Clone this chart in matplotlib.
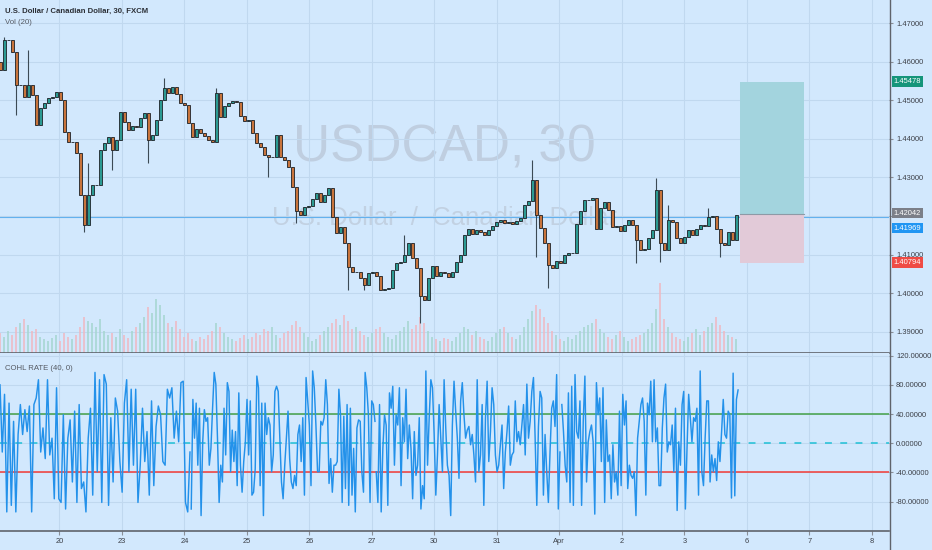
import numpy as np
import matplotlib.pyplot as plt
from matplotlib.patches import Rectangle
from matplotlib.lines import Line2D

plt.rcParams['font.family'] = ['Liberation Sans', 'DejaVu Sans']

# --- data --------------------------------------------------------------
# x axis is in trading days, 0 = Mar 20
day_labels = ['20', '23', '24', '25', '26', '27', '30', '31', 'Apr', '2', '3', '6', '7', '8']

first_open = 1.4600
closes = [
    1.4579, 1.4656, 1.4656, 1.4625, 1.4539, 1.4539, 1.4509, 1.4539, 1.4514, 1.4436,
    1.4480, 1.4493, 1.4506, 1.4509, 1.4522, 1.4501, 1.4418, 1.4392, 1.4392, 1.4363,
    1.4255, 1.4177, 1.4255, 1.4281, 1.4281, 1.4371, 1.4389, 1.4405, 1.4371, 1.4397,
    1.4470, 1.4444, 1.4423, 1.4433, 1.4431, 1.4454, 1.4467, 1.4397, 1.4410, 1.4449,
    1.4501, 1.4532, 1.4519, 1.4534, 1.4516, 1.4493, 1.4488, 1.4441, 1.4405, 1.4426,
    1.4415, 1.4408, 1.4397, 1.4392, 1.4519, 1.4457, 1.4485, 1.4493, 1.4498, 1.4496,
    1.4459, 1.4446, 1.4449, 1.4415, 1.4389, 1.4379, 1.4358, 1.4353, 1.4353, 1.4410,
    1.4353, 1.4345, 1.4327, 1.4275, 1.4213, 1.4203, 1.4224, 1.4226, 1.4244, 1.4260,
    1.4237, 1.4255, 1.4273, 1.4198, 1.4156, 1.4172, 1.4130, 1.4068, 1.4055, 1.4055,
    1.4040, 1.4021, 1.4053, 1.4055, 1.4045, 1.4009, 1.4011, 1.4014, 1.4060, 1.4079,
    1.4081, 1.4099, 1.4130, 1.4091, 1.4066, 1.3993, 1.3983, 1.4040, 1.4071, 1.4045,
    1.4055, 1.4053, 1.4042, 1.4055, 1.4081, 1.4099, 1.4151, 1.4167, 1.4154, 1.4164,
    1.4159, 1.4151, 1.4164, 1.4174, 1.4185, 1.4190, 1.4182, 1.4185, 1.4180, 1.4187,
    1.4195, 1.4229, 1.4239, 1.4294, 1.4203, 1.4169, 1.4130, 1.4073, 1.4066, 1.4084,
    1.4079, 1.4099, 1.4104, 1.4104, 1.4180, 1.4213, 1.4242, 1.4242, 1.4247, 1.4167,
    1.4221, 1.4237, 1.4216, 1.4172, 1.4174, 1.4161, 1.4177, 1.4190, 1.4177, 1.4138,
    1.4112, 1.4115, 1.4143, 1.4164, 1.4268, 1.4130, 1.4112, 1.4190, 1.4185, 1.4143,
    1.4130, 1.4146, 1.4164, 1.4151, 1.4167, 1.4177, 1.4174, 1.4198, 1.4200, 1.4167,
    1.4130, 1.4125, 1.4159, 1.4138, 1.4204,
]
# visible wick extremes (candle index -> price)
wick_hi = {1: 1.4664, 7: 1.4630, 22: 1.4337, 41: 1.4558, 54: 1.4532, 101: 1.4151,
           133: 1.4345, 164: 1.4299, 167: 1.4229, 177: 1.4221}
wick_lo = {4: 1.4462, 21: 1.4159, 28: 1.4319, 37: 1.4337, 67: 1.4301, 74: 1.4182,
           87: 1.4009, 91: 1.4009, 105: 1.3923, 134: 1.4094, 137: 1.4014, 159: 1.4079,
           165: 1.4081, 180: 1.4094}

volume = [
    20, 16, 22, 18, 26, 30, 34, 28, 22, 24, 16, 14, 12, 15, 18, 12, 20, 16, 14, 18,
    26, 36, 32, 30, 26, 34, 22, 18, 20, 16, 24, 18, 15, 22, 26, 30, 36, 46, 40, 54,
    48, 38, 30, 26, 32, 24, 16, 20, 14, 12, 16, 14, 18, 22, 30, 26, 20, 16, 14, 12,
    15, 18, 14, 16, 20, 18, 24, 22, 26, 18, 15, 20, 22, 28, 32, 26, 20, 16, 12, 14,
    18, 22, 26, 30, 34, 28, 38, 32, 24, 26, 22, 18, 16, 20, 24, 26, 20, 16, 14, 18,
    22, 26, 32, 24, 28, 36, 30, 22, 16, 14, 12, 15, 14, 12, 16, 20, 26, 24, 18, 22,
    16, 14, 12, 16, 20, 24, 26, 20, 16, 14, 18, 26, 34, 42, 48, 44, 36, 30, 22, 18,
    14, 12, 16, 14, 18, 22, 26, 28, 30, 34, 24, 20, 16, 14, 18, 22, 16, 12, 14, 16,
    18, 20, 24, 30, 44, 70, 34, 26, 20, 16, 14, 12, 16, 20, 24, 18, 22, 26, 30, 36,
    28, 22, 18, 16, 14,
]

# COHL RATE (40, 0), read in four stretches (start day, end day)
osc_spans = [(-0.95, 2.09), (2.11, 5.05), (5.07, 8.01), (8.04, 10.86)]
osc_a = [80, -12, 67, -94, 55, -85, 30, -94, 12, 53, 12, 46, 16, 51, -94, 53, 62, 87, -12, 21,
         -21, 87, -16, 7, -76, 76, -76, -81, 39, -90, 7, 32, -53, 44, -81, 53, -62, -53, -94, 7,
         48, -71, 97, -39, 87, -81, 94, 81, -85, 35, -53, 62, 44, -25, -67, 55, 87, -39, 74, -30,
         74, -81, -30, 48, -25, 16, -71, 58, -58, 23, 51, 39, -25, -30, 74, 62, 76, 7, 44, 2,
         83, 85, -81, -94, -12]
osc_b = [-90, 60, 7, 55, -30, 48, -99, 2, 46, 30, 35, -30, -7, 48, 97, 81, 7, -81, -30, -53,
         48, -16, 83, 71, -39, 18, -25, 16, -58, 69, -30, -67, -25, 2, 60, -16, 58, -71, -67, -35,
         92, 76, -58, 55, -99, 55, 12, 35, 25, -39, -16, 71, 78, 71, 7, -53, -76, -30, 7, 44,
         -21, -53, -62, -44, -58, 12, 25, -25, 35, -71, 90, 58, 25, -58, 99, 76, 25, -39, -39, 30,
         25, 35, 87, 53, -55, -21, -67, -30, -30, -25, 74, 39, -81, 37, -62, 53, -85, 48, -71, -7,
         -94, 21, 32, 30, -39, -67, 97, 76, 39, -81, 58, 53, 30]
osc_c = [-39, -81, 53, -94, -7, 39, 25, -85, 69, 48, 78, -30, 39, 25, 76, -58, 35, 2, 74, -21,
         25, -7, -76, 16, -44, -30, 35, -90, -58, -76, 99, -30, 35, 87, 76, 12, -71, -16, 53, 7,
         -39, 87, 21, -30, -44, -99, 25, 85, 44, 7, -48, 58, 83, 39, 7, 18, 23, -2, 12, -16,
         -53, 87, -39, -16, 53, -85, 35, 85, -25, 16, 76, 53, -16, -39, -30, -2, 25, -62, -12, 16,
         51, -30, -16, -12, 58, 2, 16, -2, 25, 53, -16, 81, 7, 30, 71, 90, 7, -85, 23, 71,
         62, -71, 12, -39, -81, -12, 48, 58, 23, 94, -90, -12]
osc_d = [53, 16, -30, -53, 69, -81, 78, -85, 94, 16, 7, 58, -85, 30, 92, -53, 2, 16, 25, 2,
         -97, 83, 39, 62, -25, 76, -81, 32, -25, -16, -76, -2, -53, -39, -71, 44, -58, 67, 25, 58,
         -62, -30, -44, -48, -39, -99, 7, 30, 53, 62, 30, -71, 55, 39, 85, 2, 87, 2, 21, -58,
         -58, 21, 62, 81, -12, 2, -2, 25, -39, 48, -92, 2, -30, 53, 71, -90, -7, 67, 35, 2,
         35, 30, 48, -71, 99, -39, -58, 7, 58, 58, -53, -16, -39, -21, -51, 2, -25, 16, 60, 12,
         7, 44, 39, -75, 96, -72, 60, 73]

# long position tool
pos_start, pos_end = 10.89, 11.92
entry, target, stop = 1.42042, 1.45478, 1.40794
line_price = 1.41969

# --- styling ---------------------------------------------------------------
BG = '#d2e8fd'
GRID = '#c0d8ef'
AXC = '#5f636b'
TXT = '#3b3f47'
W, H = 932, 550
xlim = (-0.95, 13.275)

fig = plt.figure(figsize=(W / 100, H / 100), dpi=100, facecolor=BG)
ax1 = fig.add_axes([0, 1 - 352.7 / H, 889 / W, 352.7 / H])
ax2 = fig.add_axes([0, 1 - 530.7 / H, 889 / W, (530.7 - 352.7) / H])

for ax in (ax1, ax2):
    ax.set_facecolor(BG)
    ax.set_xlim(*xlim)
    ax.set_xticks(range(len(day_labels)))
    ax.grid(True, color=GRID, linewidth=0.8)
    ax.set_axisbelow(True)
    ax.yaxis.tick_right()
    ax.tick_params(axis='y', length=3, width=0.8, color='#8a8f98', pad=2,
                   labelsize=5.4, labelcolor=TXT)
    for s in ('left', 'top', 'right'):
        ax.spines[s].set_visible(False)
    ax.spines['bottom'].set_color(AXC)
    ax.spines['bottom'].set_linewidth(1.2)

# price pane (1.42000 label sits under the last-price tag, so left blank)
ax1.set_ylim(1.38461, 1.47598)
pticks = [1.39, 1.40, 1.41, 1.42, 1.43, 1.44, 1.45, 1.46, 1.47]
ax1.set_yticks(pticks)
ax1.set_yticklabels(['' if p == 1.42 else f'{p:.5f}' for p in pticks])
ax1.tick_params(axis='x', length=0, labelbottom=False)

t = np.linspace(-0.95, 10.83, len(closes))
step = t[1] - t[0]
opens = [first_open] + closes[:-1]
up = [c >= o for o, c in zip(opens, closes)]

# volume, scaled to the bottom of the pane
vol_scale = 352.7
ax1.bar(t, [v / vol_scale for v in volume], width=step * 0.6,
        color=['#a6d6d0' if u else '#eeb9c3' for u in up], alpha=0.8,
        transform=ax1.get_xaxis_transform(), zorder=1, linewidth=0)

# watermark
ax1.text(0.5, 0.58, 'USDCAD, 30', transform=ax1.transAxes, ha='center', va='center',
         fontsize=37, color='#bfcee0', zorder=0.5)
ax1.text(0.5, 0.382, 'U.S. Dollar  /  Canadian Dollar', transform=ax1.transAxes,
         ha='center', va='center', fontsize=18.5, color='#c2d1e2', zorder=0.5)

# candles
highs = [wick_hi.get(i, max(o, c)) for i, (o, c) in enumerate(zip(opens, closes))]
lows = [wick_lo.get(i, min(o, c)) for i, (o, c) in enumerate(zip(opens, closes))]
ax1.vlines(t, lows, highs, color='#3c4a55', linewidth=0.8, zorder=3)
bottoms = [min(o, c) for o, c in zip(opens, closes)]
heights = [max(abs(c - o), 0.00008) for o, c in zip(opens, closes)]
ax1.bar(t, heights, bottom=bottoms, width=step * 0.75,
        color=['#2c9a92' if u else '#c8743c' for u in up],
        edgecolor='#1d2126', linewidth=0.6, zorder=4)

# horizontal line and position tool
ax1.axhline(line_price, color='#63b1ee', linewidth=0.8, zorder=2)
ax1.add_patch(Rectangle((pos_start, entry), pos_end - pos_start, target - entry,
                        facecolor='#a3d4de', edgecolor='none', zorder=2.5))
ax1.add_patch(Rectangle((pos_start, stop), pos_end - pos_start, entry - stop,
                        facecolor='#e2cad8', edgecolor='none', zorder=2.5))
ax1.plot([pos_start, pos_end], [entry, entry], color='#8e9aa6', linewidth=0.8, zorder=2.6)

# price tags on the scale
tags = [(target, '#15957a', 0), (entry, '#7b7f88', 1.0), (line_price, '#2196f3', -7.8),
        (stop, '#ef4b45', 0)]
for price, col, dy in tags:
    ax1.annotate(f'{price:.5f}', xy=(1.0, price), xycoords=('axes fraction', 'data'),
                 xytext=(3.2, dy), textcoords='offset points', ha='left', va='center',
                 fontsize=5.4, color='white', annotation_clip=False,
                 bbox=dict(boxstyle='square,pad=0.25', facecolor=col, edgecolor='none'))

# indicator pane
ax2.set_ylim(-119.7, 124)
oticks = [-80, -40, 0, 40, 80, 120]
ax2.set_yticks(oticks)
ax2.set_yticklabels([f'{v:.5f}' for v in oticks])
ax2.set_xticklabels(day_labels)
ax2.tick_params(axis='x', length=3, width=0.8, color='#8a8f98', pad=2,
                labelsize=5.4, labelcolor=TXT)

ax2.axhline(40, color='#43a047', linewidth=1.1, zorder=2)
ax2.axhline(-40, color='#f23b36', linewidth=1.1, zorder=2)
ax2.axhline(0, color='#1fc0d6', linewidth=1.1, dashes=(4.5, 5.5), zorder=2)

for (a, b), seg in zip(osc_spans, [osc_a, osc_b, osc_c, osc_d]):
    ax2.plot(np.linspace(a, b, len(seg)), seg, color='#2391ea', linewidth=1.05, zorder=3)

# pane legends
fig.text(5 / W, 1 - 11 / H, 'U.S. Dollar / Canadian Dollar, 30, FXCM', fontsize=5.6,
         color='#2b2f36', va='center', ha='left', fontweight='bold')
fig.text(5 / W, 1 - 23 / H, 'Vol (20)', fontsize=5.6, color='#555a63', va='center', ha='left')
fig.text(5 / W, 1 - 368 / H, 'COHL RATE (40, 0)', fontsize=5.6, color='#555a63',
         va='center', ha='left')

# price scale border
fig.add_artist(Line2D([889.5 / W, 889.5 / W], [0, 1], transform=fig.transFigure,
                      color=AXC, linewidth=1.0))

fig.savefig('out.png', dpi=100, facecolor=BG)
